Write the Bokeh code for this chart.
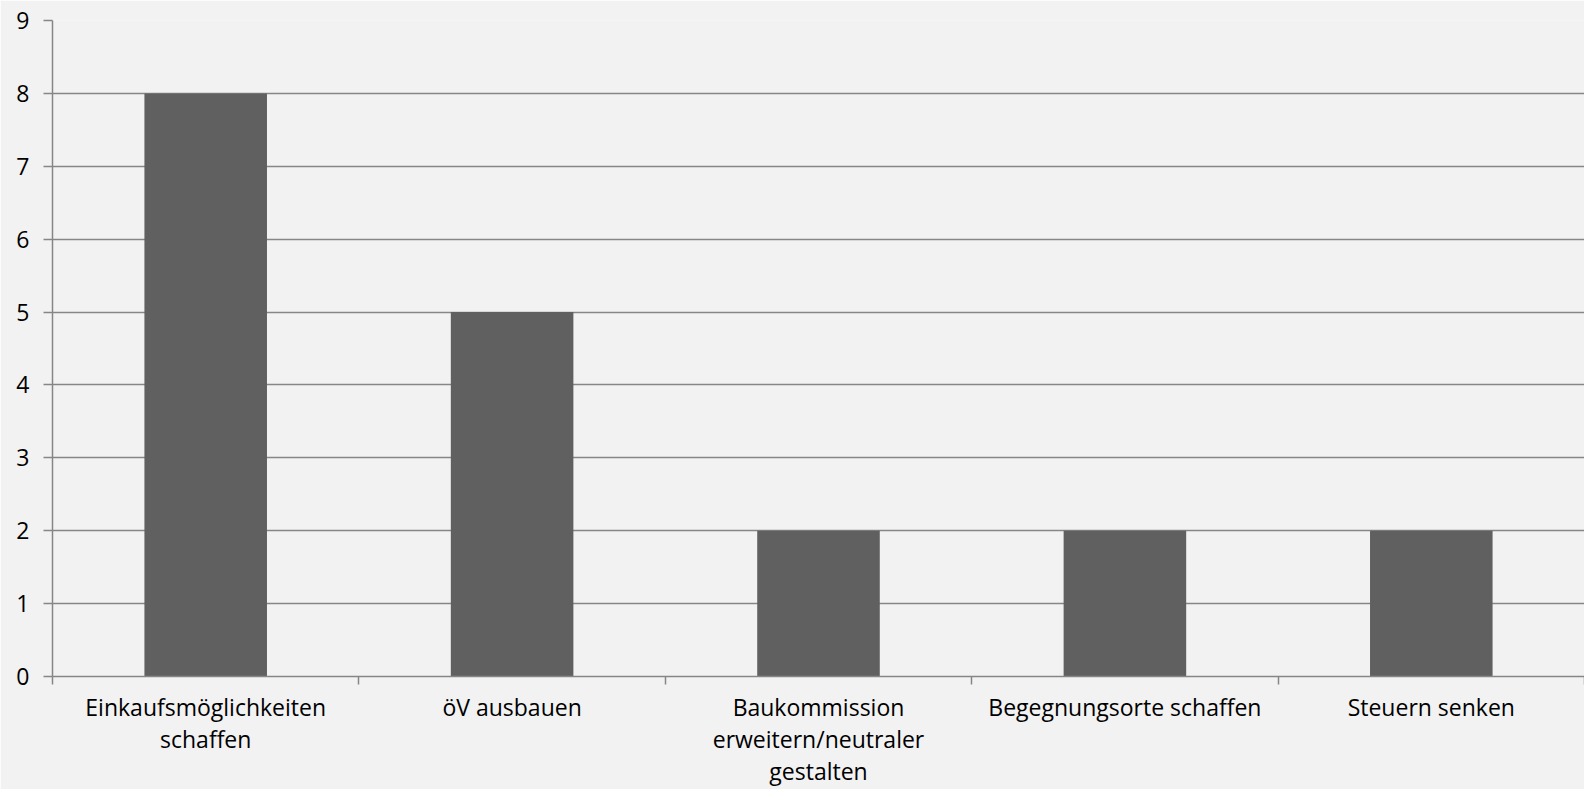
from bokeh.plotting import figure
from bokeh.models import FixedTicker, Range1d, ColumnDataSource
from bokeh.embed import file_html
from bokeh.resources import INLINE

categories = [
    "Einkaufsmöglichkeiten\nschaffen",
    "öV ausbauen",
    "Baukommission\nerweitern/neutraler\ngestalten",
    "Begegnungsorte schaffen",
    "Steuern senken",
]
counts = [8, 5, 2, 2, 2]
y_ticks = [0, 1, 2, 3, 4, 5, 6, 7, 8, 9]

BG = "#f2f2f2"
GRID = "#868686"
BAR = "#606060"
FONT = "Open Sans"

n = len(categories)
centers = [i + 0.5 for i in range(n)]

p = figure(
    width=1584, height=789,
    x_range=Range1d(0, n), y_range=Range1d(0, 9),
    output_backend="svg", toolbar_location=None,
    background_fill_color=BG, border_fill_color=BG,
    min_border_left=52, min_border_right=0,
    min_border_top=20, min_border_bottom=112,
)
p.outline_line_color = None

src = ColumnDataSource(dict(x=centers, top=counts))
p.vbar(x="x", top="top", width=0.4, bottom=0, source=src,
       fill_color=BAR, line_color=None)

# x axis: labels at category centres, ticks at category boundaries
p.xaxis.ticker = FixedTicker(ticks=centers, minor_ticks=list(range(n + 1)))
p.xaxis.major_label_overrides = {c: lab for c, lab in zip(centers, categories)}
p.xaxis.major_tick_out = 0
p.xaxis.major_tick_in = 0
p.xaxis.minor_tick_out = 8
p.xaxis.minor_tick_in = 0
p.xaxis.minor_tick_line_color = GRID
p.xaxis.minor_tick_line_width = 1.5
p.xaxis.axis_line_color = GRID
p.xaxis.axis_line_width = 1.5
p.xaxis.major_label_text_font = FONT
p.xaxis.major_label_text_font_size = "23px"
p.xaxis.major_label_text_line_height = 1.0
p.xaxis.major_label_text_color = "black"
p.xaxis.major_label_standoff = 6

# y axis
p.yaxis.ticker = FixedTicker(ticks=y_ticks)
p.yaxis.major_tick_out = 9
p.yaxis.major_tick_in = 0
p.yaxis.minor_tick_line_color = None
p.yaxis.major_tick_line_color = GRID
p.yaxis.major_tick_line_width = 1.5
p.yaxis.axis_line_color = GRID
p.yaxis.axis_line_width = 1.5
p.yaxis.major_label_text_font = FONT
p.yaxis.major_label_text_font_size = "23px"
p.yaxis.major_label_text_color = "black"
p.yaxis.major_label_standoff = 14

p.xgrid.grid_line_color = None
p.ygrid.ticker = FixedTicker(ticks=y_ticks)
p.ygrid.grid_line_color = GRID
p.ygrid.grid_line_width = 1.5

open("out.html", "w").write(file_html(p, INLINE))
